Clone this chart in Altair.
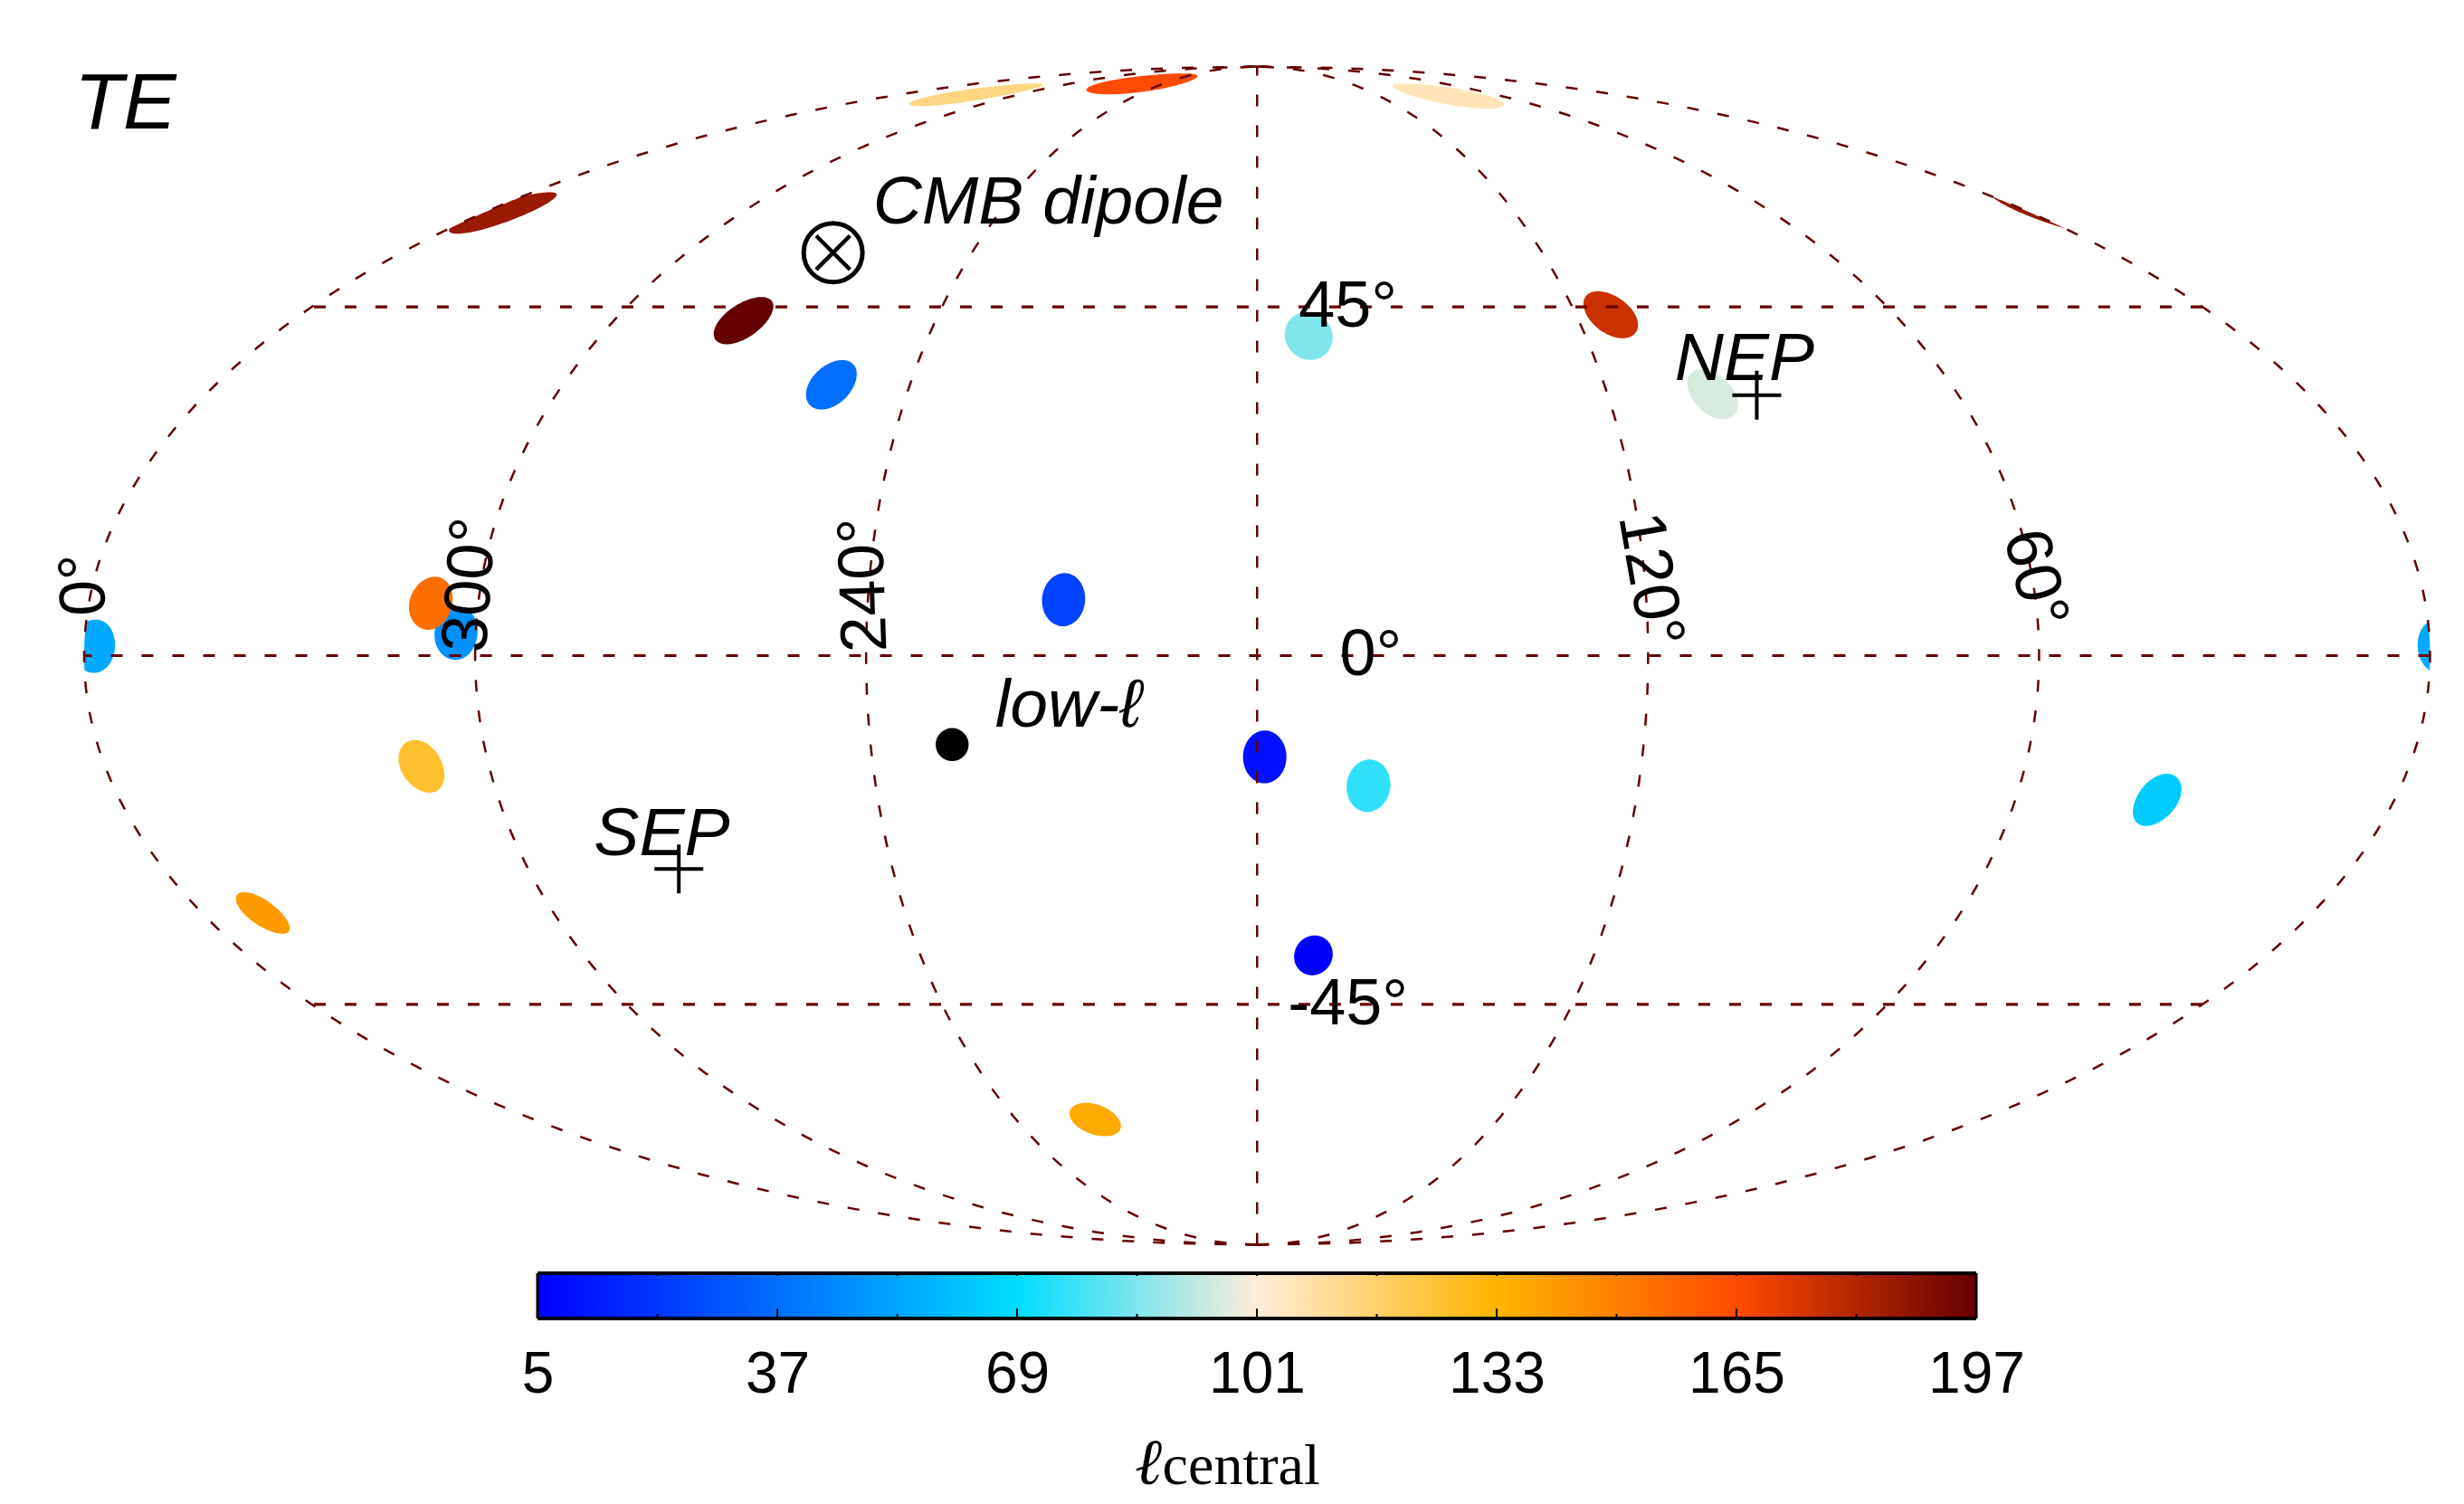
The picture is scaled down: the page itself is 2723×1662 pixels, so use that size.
import altair as alt
import numpy as np
import pandas as pd

# sky spots: map_x runs -2..2, map_y -1..1 (Mollweide plane)
spot_x = [-1.288, -0.482, -0.196, 0.327, -0.876, -0.726, 0.603, 0.088, 0.777, -1.366, -1.409,
          -1.984, -0.330, 0.013, 0.190, -1.425, 1.535, -1.696, 0.096, -0.276]
spot_y = [0.752, 0.953, 0.972, 0.951, 0.569, 0.460, 0.579, 0.543, 0.444, 0.038, 0.089,
          0.016, 0.095, -0.172, -0.221, -0.188, -0.245, -0.437, -0.509, -0.788]
spot_ell = [186, 114, 165, 106, 197, 37, 176, 85, 96, 47, 154,
            54, 24, 10, 75, 126, 64, 141, 5, 136]
# degrees on the sky
spot_radius = [3.3, 2.75, 2.9, 3.0, 3.3, 3.3, 3.3, 3.3, 3.3, 3.3, 3.3,
               3.3, 3.3, 3.3, 3.3, 3.3, 3.3, 2.75, 2.7, 2.75]

# grid
grid_lons = [0, 60, 120, 180, 240, 300, 360]
grid_lats = [-45, 0, 45]

# markers
plus_x = [0.852, -0.986]
plus_y = [0.442, -0.362]
dipole_x = [-0.723]
dipole_y = [0.684]
low_x = [-0.520]
low_y = [-0.151]

# italic labels
label_text = ["TE", "CMB dipole", "NEP", "SEP", "low-ℓ"]
label_x = [-1.93, -0.356, 0.831, -1.015, -0.322]
label_y = [0.895, 0.734, 0.467, -0.338, -0.121]
label_size = [88, 75, 75, 75, 75]

# latitude labels
lat_text = ["45°", "0°", "-45°"]
lat_x = [0.155, 0.194, 0.155]
lat_y = [0.558, -0.033, -0.626]

# longitude labels
lon_text = ["0°", "300°", "240°", "120°", "60°"]
lon_x = [-2.0, -1.341, -0.670, 0.670, 1.326]
lon_y = [0.120, 0.120, 0.120, 0.129, 0.131]
lon_angle = [268, 274, 268, 80, 76]

# colour bar
cmap_domain = [5, 69, 101, 133, 165, 197]
cmap_range = ["#0000ff", "#00ddff", "#ffedd9", "#ffb400", "#ff4b00", "#640000"]
cbar_labels = [5, 37, 69, 101, 133, 165, 197]
cbar_major = [37, 69, 101, 133, 165]
cbar_minor = [21, 53, 85, 117, 149, 181]

LINE = "#660000"
FONT = "Liberation Sans"

x_scale = alt.Scale(domain=[-2, 2], range=[85, 2677.5])
y_scale = alt.Scale(domain=[-1, 1], range=[1367.5, 65.5])
color_scale = alt.Scale(domain=cmap_domain, range=cmap_range, interpolate="rgb")
X = alt.X("x:Q", scale=x_scale, axis=None)
Y = alt.Y("y:Q", scale=y_scale, axis=None)


def project(lon, lat):
    """Mollweide, with lon increasing to the left and 180 in the middle."""
    lon, lat = np.asarray(lon, float), np.radians(lat)
    lo, hi = np.full(lat.shape, -np.pi / 2), np.full(lat.shape, np.pi / 2)
    for _ in range(50):
        mid = (lo + hi) / 2
        low = 2 * mid + np.sin(2 * mid) < np.pi * np.sin(lat)
        lo, hi = np.where(low, mid, lo), np.where(low, hi, mid)
    theta = (lo + hi) / 2
    return -(lon - 180) / 90 * np.cos(theta), np.sin(theta)


def unproject(x, y):
    theta = np.arcsin(y)
    lat = np.arcsin((2 * theta + np.sin(2 * theta)) / np.pi)
    return 180 - 90 * x / np.cos(theta), np.degrees(lat)


def spot_outline(x, y, radius):
    """Small circle on the sphere around a spot, cut at the map edge."""
    lon0, lat0 = unproject(x, y)
    phi, r = np.radians(lat0), np.radians(radius)
    t = np.linspace(0, 2 * np.pi, 121)
    sin_lat = np.sin(phi) * np.cos(r) + np.cos(phi) * np.sin(r) * np.cos(t)
    dlon = np.arctan2(np.sin(t) * np.sin(r) * np.cos(phi), np.cos(r) - np.sin(phi) * sin_lat)
    lons = lon0 + np.degrees(dlon)
    lats = np.degrees(np.arcsin(sin_lat))
    parts = [lons]
    if lons.max() > 360:
        parts.append(lons - 360)
    if lons.min() < 0:
        parts.append(lons + 360)
    return [project(np.clip(p, 0, 360), lats) for p in parts]


meridian_rows = []
for lon in grid_lons:
    lats = np.arange(-90, 90.5, 1.0)
    gx, gy = project(np.full(lats.shape, lon), lats)
    meridian_rows += [{"line": f"m{lon}", "i": i, "x": a, "y": b} for i, (a, b) in enumerate(zip(gx, gy))]
parallel_rows = []
for lat in grid_lats:
    lons = np.arange(0, 360.5, 2.0)
    gx, gy = project(lons, np.full(lons.shape, lat))
    parallel_rows += [{"line": f"p{lat}", "i": i, "x": a, "y": b} for i, (a, b) in enumerate(zip(gx, gy))]

spot_rows = []
n = 0
for sx, sy, ell, rad in zip(spot_x, spot_y, spot_ell, spot_radius):
    for px, py in spot_outline(sx, sy, rad):
        spot_rows += [{"spot": f"s{n:02d}", "i": i, "x": a, "y": b, "ell": ell}
                      for i, (a, b) in enumerate(zip(px, py))]
        n += 1
spots_df = pd.DataFrame(spot_rows)

meridians = (
    alt.Chart(pd.DataFrame(meridian_rows))
    .mark_line(color=LINE, strokeWidth=2.5, strokeDash=[13, 21])
    .encode(x=X, y=Y, detail="line:N", order="i:Q")
)
parallels = (
    alt.Chart(pd.DataFrame(parallel_rows))
    .mark_line(color=LINE, strokeWidth=3.2, strokeDash=[13, 21])
    .encode(x=X, y=Y, detail="line:N", order="i:Q")
)

spots = (
    alt.Chart(spots_df)
    .mark_line(strokeWidth=0)
    .encode(
        x=X,
        y=Y,
        fill=alt.Fill("ell:Q", scale=color_scale, legend=None),
        detail="spot:N",
        order="i:Q",
    )
)

plus_marks = (
    alt.Chart(pd.DataFrame({"x": plus_x, "y": plus_y}))
    .mark_point(shape="M-1,0L1,0M0,-1L0,1", size=2916, stroke="black", strokeWidth=4, opacity=1)
    .encode(x=X, y=Y)
)
dipole_ring = (
    alt.Chart(pd.DataFrame({"x": dipole_x, "y": dipole_y}))
    .mark_point(shape="circle", size=4225, stroke="black", strokeWidth=5, opacity=1)
    .encode(x=X, y=Y)
)
dipole_cross = (
    alt.Chart(pd.DataFrame({"x": dipole_x, "y": dipole_y}))
    .mark_point(shape="M-1,-1L1,1M-1,1L1,-1", size=1400, stroke="black", strokeWidth=4.5, opacity=1)
    .encode(x=X, y=Y)
)
low_dot = (
    alt.Chart(pd.DataFrame({"x": low_x, "y": low_y}))
    .mark_point(shape="circle", size=1332, fill="black", stroke="black", strokeWidth=0, opacity=1, filled=True)
    .encode(x=X, y=Y)
)

labels = (
    alt.Chart(pd.DataFrame({"x": label_x, "y": label_y, "t": label_text, "s": label_size}))
    .mark_text(font=FONT, fontStyle="italic", color="black", align="center", baseline="alphabetic")
    .encode(x=X, y=Y, text="t:N", size=alt.Size("s:Q", scale=None))
)

lat_labels = (
    alt.Chart(pd.DataFrame({"x": lat_x, "y": lat_y, "t": lat_text}))
    .mark_text(font=FONT, fontSize=72, color="black", align="center", baseline="alphabetic")
    .encode(x=X, y=Y, text="t:N")
)

lon_labels = (
    alt.Chart(pd.DataFrame({"x": lon_x, "y": lon_y, "t": lon_text, "a": lon_angle}))
    .mark_text(font=FONT, fontSize=72, color="black", align="center", baseline="middle")
    .encode(x=X, y=Y, text="t:N", angle=alt.Angle("a:Q", scale=None))
)

sky_map = (
    spots + meridians + parallels + plus_marks + dipole_ring + dipole_cross + low_dot
    + labels + lat_labels + lon_labels
).properties(width=2707, height=1397)

# colour bar panel
cx_scale = alt.Scale(domain=[5, 197], range=[586, 2176])
cy_scale = alt.Scale(domain=[0, 1])
CX = alt.X("lo:Q", scale=cx_scale, title=None,
           axis=alt.Axis(values=cbar_labels, format="d", domain=False, ticks=False, grid=False,
                         labelFont=FONT, labelFontSize=64, labelColor="black", labelPadding=30,
                         labelOverlap=False, labelFlush=False))
CY = alt.Y("y:Q", scale=cy_scale, axis=None)

gradient = {
    "gradient": "linear",
    "x1": 0, "x2": 1, "y1": 0, "y2": 0,
    "stops": [{"offset": (d - 5) / 192, "color": c} for d, c in zip(cmap_domain, cmap_range)],
}
bar = (
    alt.Chart(pd.DataFrame({"lo": [5], "hi": [197], "y": [0], "y2": [1]}))
    .mark_rect(fill=gradient)
    .encode(x=CX, x2="hi:Q", y=CY, y2="y2:Q")
)

tick_rows = [{"lo": v, "y": 0, "y2": 0.22} for v in cbar_major] + \
            [{"lo": v, "y": 0, "y2": 0.1} for v in cbar_minor] + \
            [{"lo": v, "y": 1, "y2": 0.94} for v in cbar_major + cbar_minor]
bar_ticks = (
    alt.Chart(pd.DataFrame(tick_rows))
    .mark_rule(color="black", strokeWidth=2)
    .encode(x=CX, y=CY, y2="y2:Q")
)
frame_h = (
    alt.Chart(pd.DataFrame({"lo": [5, 5], "hi": [197, 197], "y": [0, 1]}))
    .mark_rule(color="black", strokeWidth=4)
    .encode(x=CX, x2="hi:Q", y=CY)
)
frame_v = (
    alt.Chart(pd.DataFrame({"lo": [5, 197], "y": [0, 0], "y2": [1, 1]}))
    .mark_rule(color="black", strokeWidth=3)
    .encode(x=CX, y=CY, y2="y2:Q")
)
ell_mark = (
    alt.Chart(pd.DataFrame({"lo": [86.5], "y": [-3.66], "t": ["ℓ"]}))
    .mark_text(font="DejaVu Serif", fontSize=72, fontStyle="italic", color="black", baseline="alphabetic")
    .encode(x=CX, y=CY, text="t:N")
)
central_mark = (
    alt.Chart(pd.DataFrame({"lo": [98.9], "y": [-3.66], "t": ["central"]}))
    .mark_text(font="Liberation Serif", fontSize=64, color="black", baseline="alphabetic")
    .encode(x=CX, y=CY, text="t:N")
)

colorbar = (bar + bar_ticks + frame_h + frame_v + ell_mark + central_mark).properties(width=2707, height=50)

chart = (
    alt.vconcat(sky_map, colorbar, spacing=0)
    .properties(padding={"left": 0, "top": 0, "right": 0, "bottom": 10})
    .configure_view(strokeWidth=0)
)

chart.save("out.html", embed_options={"renderer": "svg", "actions": False})
